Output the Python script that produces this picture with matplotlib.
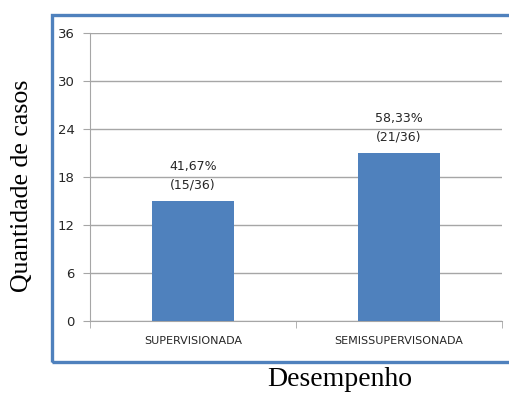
import matplotlib.pyplot as plt
from matplotlib.patches import Rectangle

categorias = ["SUPERVISIONADA", "SEMISSUPERVISONADA"]
casos = [15, 21]
total = 36
percentuais = ["41,67%", "58,33%"]
yticks = [0, 6, 12, 18, 24, 30, 36]

fig = plt.figure(figsize=(5.09, 3.94), dpi=100)
ax = fig.add_axes([0.1768, 0.1853, 0.8094, 0.7309])

cinza = "#a6a6a6"
azul = "#4f81bd"
texto = "#262626"

pos = list(range(len(categorias)))
ax.bar(pos, casos, width=0.4, color=azul, zorder=3)

ax.set_xlim(-0.5, 1.5)
ax.set_ylim(0, 36)
ax.set_yticks(yticks)
ax.set_yticklabels([str(v) for v in yticks], fontsize=9.5, color=texto)
ax.yaxis.grid(True, color=cinza, linewidth=1)
ax.tick_params(axis="y", length=5, color=cinza, pad=6)

ax.set_xticks(pos)
ax.set_xticklabels(categorias, fontsize=8, color=texto)
ax.tick_params(axis="x", which="major", length=0, pad=11)
ax.set_xticks([-0.5, 0.5, 1.5], minor=True)
ax.tick_params(axis="x", which="minor", length=5, color=cinza)

for s in ["top", "right"]:
    ax.spines[s].set_visible(False)
for s in ["left", "bottom"]:
    ax.spines[s].set_color(cinza)

for p, v, pct in zip(pos, casos, percentuais):
    ax.text(p, v + 1.2, f"{pct}\n({v}/{total})", ha="center", va="bottom",
            fontsize=9, color=texto, linespacing=1.5)

# moldura azul em torno do grafico
fig.patches.append(Rectangle((52 / 509, 1 - 362 / 394), 1.0, (362 - 15) / 394,
                             transform=fig.transFigure, fill=False,
                             edgecolor=azul, linewidth=2.4))

fig.text(22 / 509, 1 - 186 / 394, "Quantidade de casos", rotation=90,
         ha="center", va="center", family="Liberation Serif", fontsize=18.6)
fig.text(340 / 509, 1 - 380 / 394, "Desempenho", ha="center", va="center",
         family="Liberation Serif", fontsize=20)

fig.savefig("out.png", dpi=100)
